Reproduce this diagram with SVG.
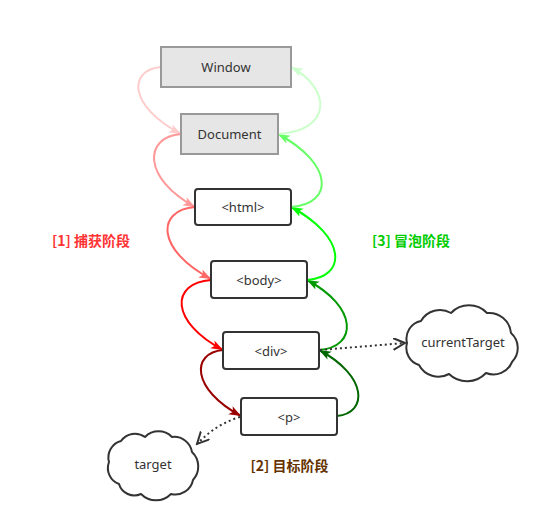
<svg xmlns="http://www.w3.org/2000/svg" width="553" height="531" viewBox="0 0 553 531">
<style>
.gray{fill:#e6e6e6;stroke:#999999;stroke-width:2}
.box{fill:#ffffff;stroke:#333333;stroke-width:2}
.lbl{font-family:"Noto Sans","DejaVu Sans",sans-serif;font-size:13px;fill:#333333;text-anchor:middle;dominant-baseline:central}
.phase{font-family:"Noto Sans CJK SC","Noto Sans",sans-serif;font-size:14px;font-weight:bold;text-anchor:middle;dominant-baseline:central}
.cur{fill:none;stroke-width:2}
.dot{fill:none;stroke:#333333;stroke-width:2;stroke-dasharray:2 3}
.cloud{fill:#ffffff;stroke:#333333;stroke-width:2;stroke-linejoin:round}
</style>
<defs>
<marker id="a1" markerUnits="userSpaceOnUse" markerWidth="13" markerHeight="10" refX="12" refY="4.5" orient="auto"><path d="M0,0 L12,4.5 L0,9 L3,4.5 Z" fill="#ffcccc"/></marker>
<marker id="a2" markerUnits="userSpaceOnUse" markerWidth="13" markerHeight="10" refX="12" refY="4.5" orient="auto"><path d="M0,0 L12,4.5 L0,9 L3,4.5 Z" fill="#ff9999"/></marker>
<marker id="a3" markerUnits="userSpaceOnUse" markerWidth="13" markerHeight="10" refX="12" refY="4.5" orient="auto"><path d="M0,0 L12,4.5 L0,9 L3,4.5 Z" fill="#ff6666"/></marker>
<marker id="a4" markerUnits="userSpaceOnUse" markerWidth="13" markerHeight="10" refX="12" refY="4.5" orient="auto"><path d="M0,0 L12,4.5 L0,9 L3,4.5 Z" fill="#ff0000"/></marker>
<marker id="a5" markerUnits="userSpaceOnUse" markerWidth="13" markerHeight="10" refX="12" refY="4.5" orient="auto"><path d="M0,0 L12,4.5 L0,9 L3,4.5 Z" fill="#990000"/></marker>
<marker id="b1" markerUnits="userSpaceOnUse" markerWidth="13" markerHeight="10" refX="12" refY="4.5" orient="auto"><path d="M0,0 L12,4.5 L0,9 L3,4.5 Z" fill="#006600"/></marker>
<marker id="b2" markerUnits="userSpaceOnUse" markerWidth="13" markerHeight="10" refX="12" refY="4.5" orient="auto"><path d="M0,0 L12,4.5 L0,9 L3,4.5 Z" fill="#009900"/></marker>
<marker id="b3" markerUnits="userSpaceOnUse" markerWidth="13" markerHeight="10" refX="12" refY="4.5" orient="auto"><path d="M0,0 L12,4.5 L0,9 L3,4.5 Z" fill="#00ff00"/></marker>
<marker id="b4" markerUnits="userSpaceOnUse" markerWidth="13" markerHeight="10" refX="12" refY="4.5" orient="auto"><path d="M0,0 L12,4.5 L0,9 L3,4.5 Z" fill="#66ff66"/></marker>
<marker id="b5" markerUnits="userSpaceOnUse" markerWidth="13" markerHeight="10" refX="12" refY="4.5" orient="auto"><path d="M0,0 L12,4.5 L0,9 L3,4.5 Z" fill="#ccffcc"/></marker>
<marker id="op" markerUnits="userSpaceOnUse" markerWidth="14" markerHeight="14" refX="12" refY="6" orient="auto"><path d="M0,0 L12,6 L0,12" fill="none" stroke="#333333" stroke-width="2"/></marker>
</defs>

<g id="connectors">
<path class="cur" stroke="#ffcccc" marker-end="url(#a1)" d="M161 67 C128 70 128 106 181 134"/>
<path class="cur" stroke="#ff9999" marker-end="url(#a2)" d="M181 134 C143 137 143 179 195 207"/>
<path class="cur" stroke="#ff6666" marker-end="url(#a3)" d="M195 207 C156 210 156 250 211 279"/>
<path class="cur" stroke="#ff0000" marker-end="url(#a4)" d="M211 280 C170 283 170 322 223 350"/>
<path class="cur" stroke="#990000" marker-end="url(#a5)" d="M223 350 C191 353 191 389 241 416"/>
<path class="cur" stroke="#006600" marker-end="url(#b1)" d="M337 416 C368 413 368 376 319 350"/>
<path class="cur" stroke="#009900" marker-end="url(#b2)" d="M319 350 C358 347 358 307 307 280"/>
<path class="cur" stroke="#00ff00" marker-end="url(#b3)" d="M307 280 C347 277 347 237 291 207"/>
<path class="cur" stroke="#66ff66" marker-end="url(#b4)" d="M291 207 C334 204 334 164 278 134"/>
<path class="cur" stroke="#ccffcc" marker-end="url(#b5)" d="M278 134 C332 131 332 89 291 67"/>
<path class="dot" marker-end="url(#op)" d="M320 350 L405 343"/>
<path class="dot" marker-end="url(#op)" d="M240 417 Q216 424 197 444"/>
</g>

<g id="window"><rect class="gray" x="161" y="47" width="130" height="40"/><text class="lbl" x="226" y="67">Window</text></g>
<g id="document"><rect class="gray" x="181" y="114" width="97" height="40"/><text class="lbl" x="229.5" y="134">Document</text></g>
<g id="html"><rect class="box" x="195" y="189" width="96" height="36" rx="3"/><text class="lbl" x="243" y="207">&lt;html&gt;</text></g>
<g id="body"><rect class="box" x="211" y="261" width="96" height="37" rx="3"/><text class="lbl" x="259" y="280">&lt;body&gt;</text></g>
<g id="div"><rect class="box" x="223" y="332" width="96" height="37" rx="3"/><text class="lbl" x="271" y="350.5">&lt;div&gt;</text></g>
<g id="p"><rect class="box" x="241" y="398" width="96" height="37" rx="3"/><text class="lbl" x="289" y="416.5">&lt;p&gt;</text></g>

<g id="currentTarget">
<path class="cloud" d="M407 343 A18 18 0 0 1 421 321 A22 22 0 0 1 451 313 A25 25 0 0 1 487 313 A22 22 0 0 1 511 333 A20 20 0 0 1 512 362 A20 20 0 0 1 486 373 A26 26 0 0 1 449 374 A22 22 0 0 1 419 365 A18 18 0 0 1 407 343 Z"/>
<text class="lbl" x="463" y="342">currentTarget</text>
</g>
<g id="target">
<path class="cloud" d="M109 462 A17 17 0 0 1 121 441 A17 17 0 0 1 145 437 A19 19 0 0 1 172 437 A18 18 0 0 1 192 452 A20 20 0 0 1 193 480 A18 18 0 0 1 171 494 A21 21 0 0 1 141 494 A16 16 0 0 1 119 484 A17 17 0 0 1 109 462 Z"/>
<text class="lbl" x="153" y="464">target</text>
</g>

<g id="phase1"><text class="phase" x="91" y="240" fill="#ff3333">[1] 捕获阶段</text></g>
<g id="phase3"><text class="phase" x="411" y="240" fill="#00cc00">[3] 冒泡阶段</text></g>
<g id="phase2"><text class="phase" x="289.5" y="465" fill="#663300">[2] 目标阶段</text></g>
</svg>
